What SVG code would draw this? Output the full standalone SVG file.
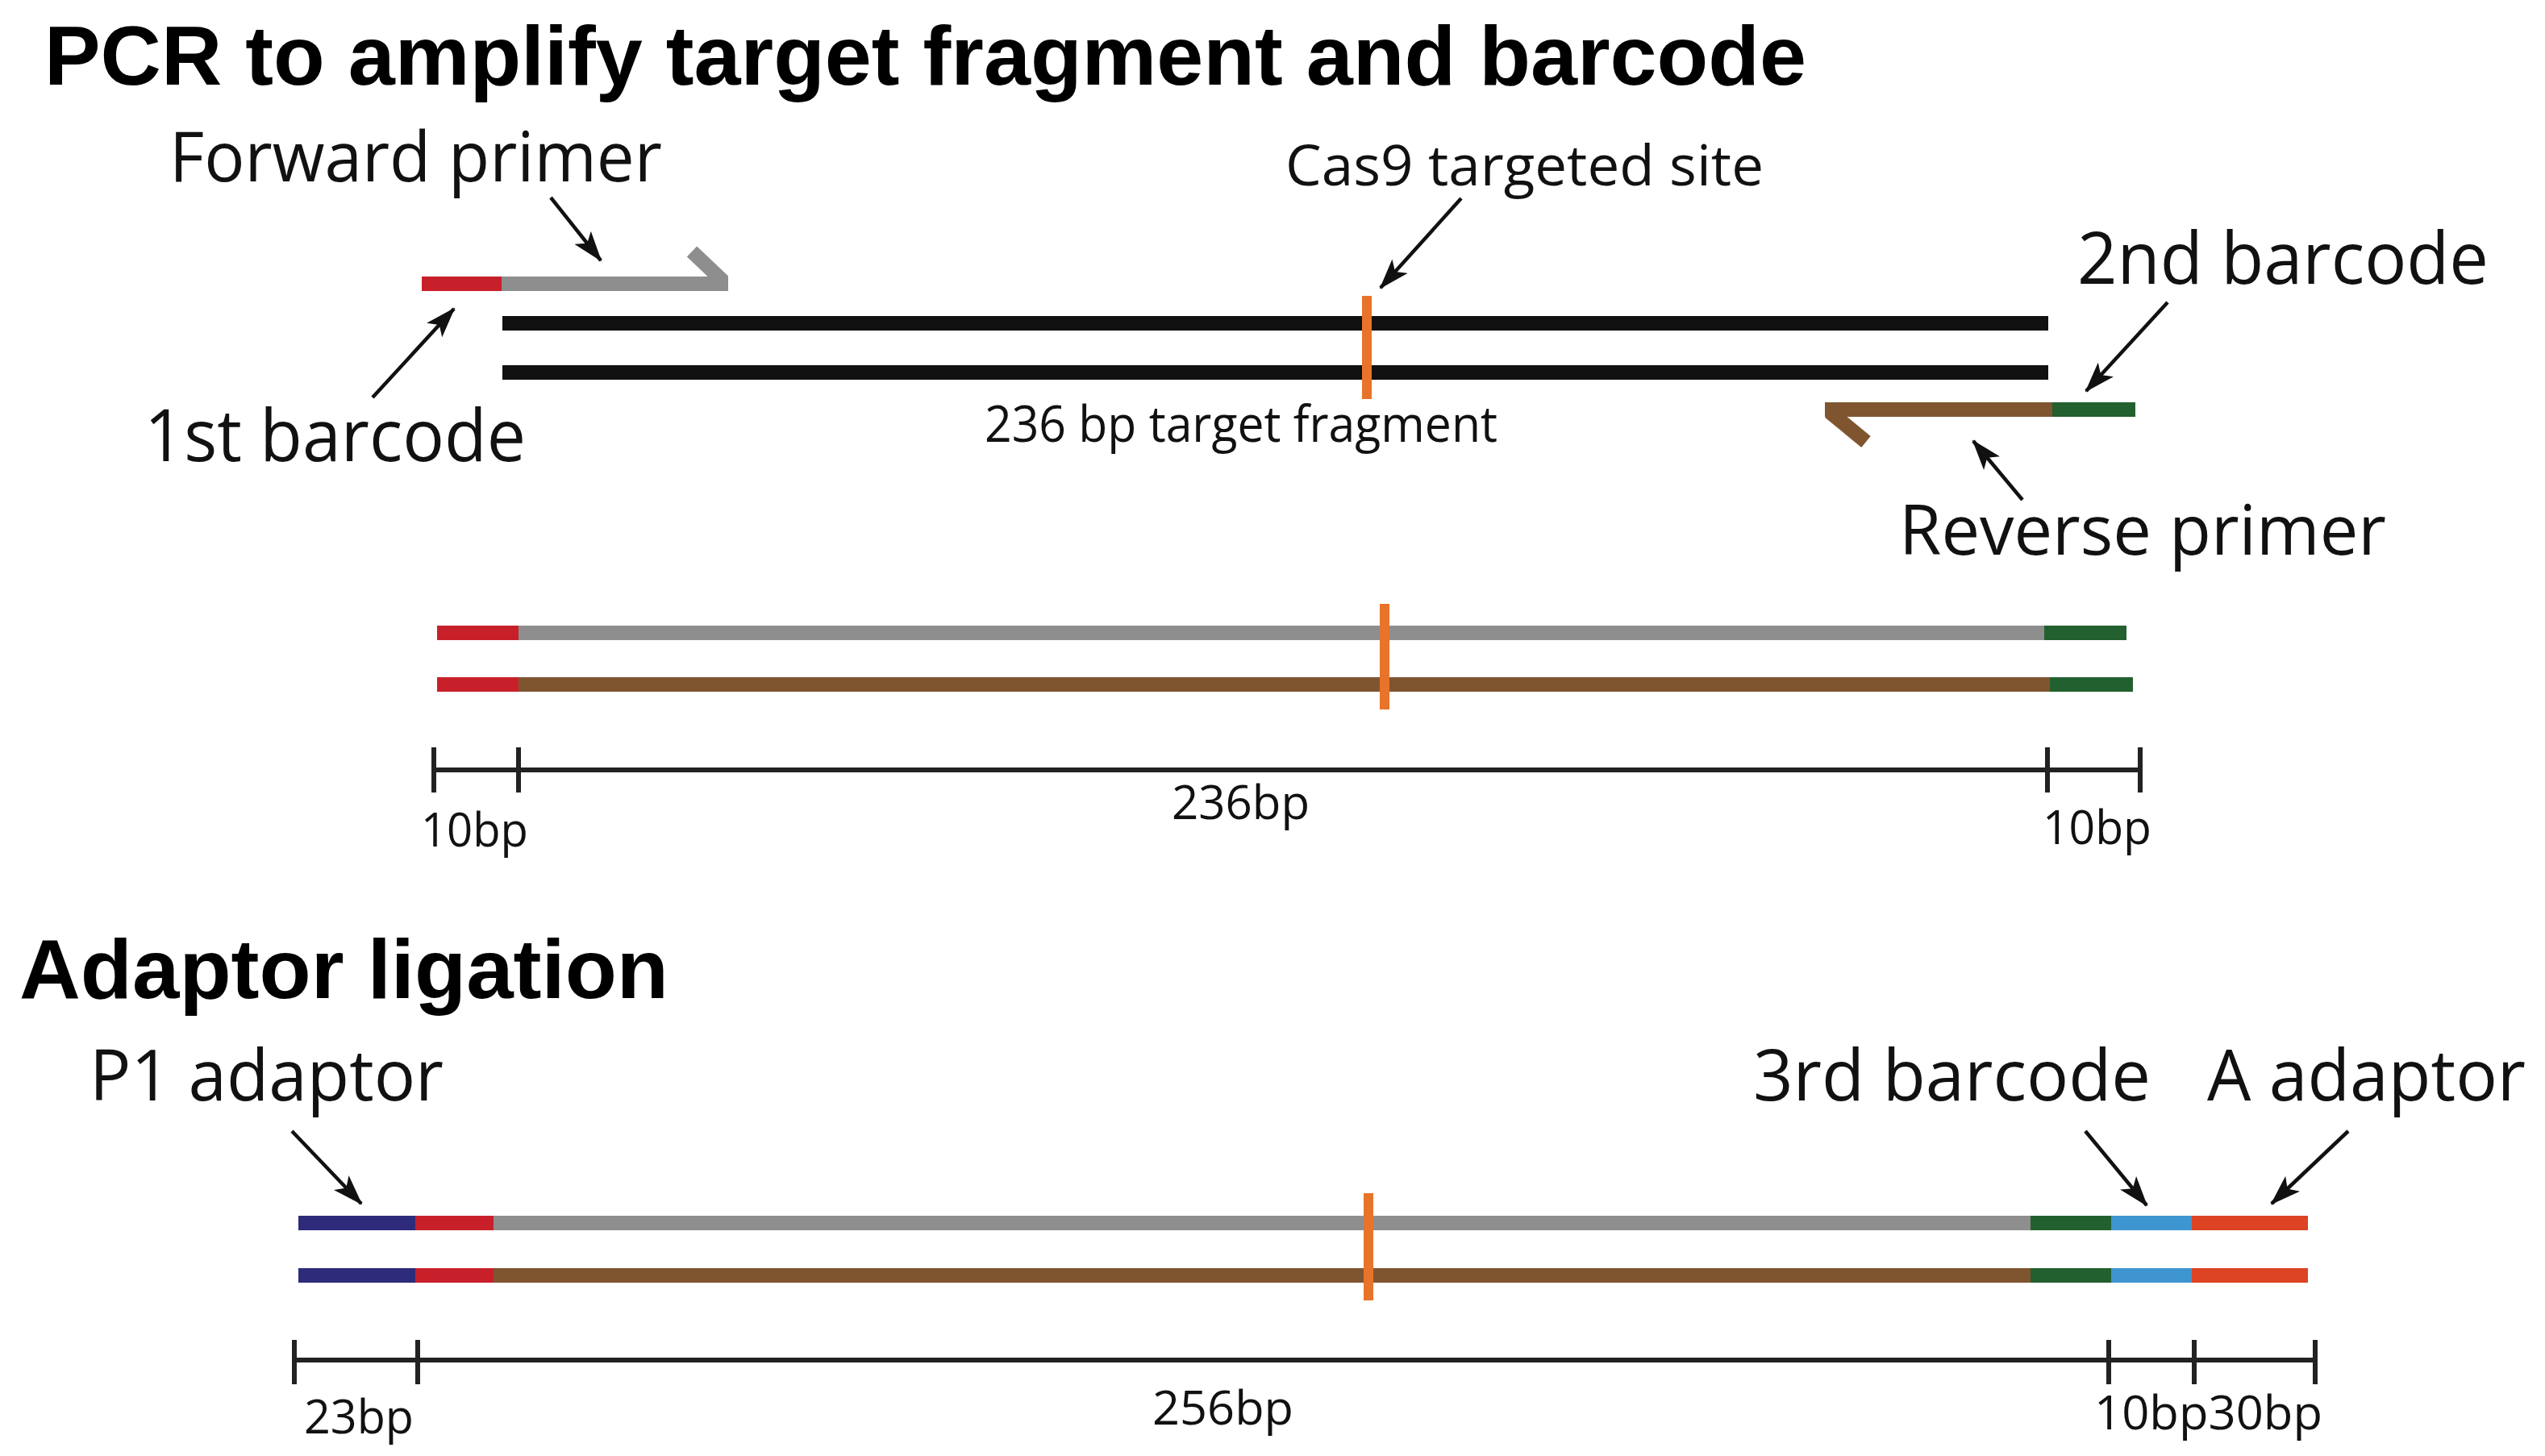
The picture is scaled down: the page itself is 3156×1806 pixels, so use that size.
<svg xmlns="http://www.w3.org/2000/svg" width="3156" height="1806" viewBox="0 0 3156 1806">
<defs>
<marker id="ah" markerUnits="userSpaceOnUse" markerWidth="38" markerHeight="26" viewBox="0 0 38 26" refX="36" refY="13" orient="auto">
<path d="M0,0 L38,13 L0,26 L9,13 Z" fill="#111"/>
</marker>
</defs>
<style>
.title{font-family:"Liberation Sans",Arial,sans-serif;font-weight:bold;font-size:104px;fill:#000}
.lbl{font-family:"Open Sans","DejaVu Sans",sans-serif;fill:#111}
.seg{stroke-width:18;fill:none;stroke-linecap:butt}
.cut{stroke:#e8732a;stroke-width:12;fill:none}
.scale{stroke:#222;stroke-width:6;fill:none}
.arr{stroke:#111;stroke-width:4.5;fill:none;marker-end:url(#ah)}
.red{stroke:#c8202a}.gray{stroke:#8e8e8e}.blk{stroke:#111}.brown{stroke:#7f5530}.green{stroke:#22602f}.navy{stroke:#2e2b7a}.lblue{stroke:#3e95d0}.ored{stroke:#dc4423}
</style>
<rect width="3156" height="1806" fill="#fff"/>

<g id="title-pcr"><text class="title" x="55" y="105" textLength="2185" lengthAdjust="spacingAndGlyphs">PCR to amplify target fragment and barcode</text></g>
<g id="title-adaptor"><text class="title" x="24" y="1238" textLength="805" lengthAdjust="spacingAndGlyphs">Adaptor ligation</text></g>

<g id="forward-primer">
<line class="seg red" x1="523" y1="352" x2="622" y2="352"/>
<line class="seg gray" x1="622" y1="352" x2="903" y2="352"/>
<line class="seg gray" x1="897" y1="349" x2="858" y2="312"/>
<text class="lbl" x="210" y="225" font-size="86" textLength="611" lengthAdjust="spacingAndGlyphs">Forward primer</text>
</g>
<g id="template">
<line class="seg blk" x1="623" y1="401" x2="2540" y2="401"/>
<line class="seg blk" x1="623" y1="462" x2="2540" y2="462"/>
<line class="cut" x1="1695" y1="367" x2="1695" y2="495"/>
<text class="lbl" x="1221" y="548" font-size="63" textLength="636" lengthAdjust="spacingAndGlyphs">236 bp target fragment</text>
</g>
<g id="reverse-primer">
<line class="seg brown" x1="2263" y1="508" x2="2545" y2="508"/>
<line class="seg brown" x1="2269" y1="511" x2="2314" y2="548"/>
<line class="seg green" x1="2545" y1="508" x2="2648" y2="508"/>
<text class="lbl" x="2355" y="688" font-size="86" textLength="604" lengthAdjust="spacingAndGlyphs">Reverse primer</text>
</g>
<g id="label-cas9"><text class="lbl" x="1594" y="230" font-size="70" textLength="593" lengthAdjust="spacingAndGlyphs">Cas9 targeted site</text></g>
<g id="label-1st"><text class="lbl" x="179" y="572" font-size="90" textLength="473" lengthAdjust="spacingAndGlyphs">1st barcode</text></g>
<g id="label-2nd"><text class="lbl" x="2576" y="352" font-size="90" textLength="510" lengthAdjust="spacingAndGlyphs">2nd barcode</text></g>

<g id="pcr-product">
<line class="seg red" x1="542" y1="785" x2="643" y2="785"/>
<line class="seg gray" x1="643" y1="785" x2="2535" y2="785"/>
<line class="seg green" x1="2535" y1="785" x2="2637" y2="785"/>
<line class="seg red" x1="542" y1="849" x2="643" y2="849"/>
<line class="seg brown" x1="643" y1="849" x2="2542" y2="849"/>
<line class="seg green" x1="2542" y1="849" x2="2645" y2="849"/>
<line class="cut" x1="1717" y1="749" x2="1717" y2="880"/>
</g>
<g id="scale-pcr">
<line class="scale" x1="538" y1="955" x2="2654" y2="955"/>
<line class="scale" x1="538" y1="927" x2="538" y2="983"/>
<line class="scale" x1="643" y1="927" x2="643" y2="983"/>
<line class="scale" x1="2539" y1="927" x2="2539" y2="983"/>
<line class="scale" x1="2654" y1="927" x2="2654" y2="983"/>
<text class="lbl" x="522" y="1050" font-size="59" textLength="133" lengthAdjust="spacingAndGlyphs">10bp</text>
<text class="lbl" x="1453" y="1016" font-size="59" textLength="171" lengthAdjust="spacingAndGlyphs">236bp</text>
<text class="lbl" x="2533" y="1047" font-size="59" textLength="135" lengthAdjust="spacingAndGlyphs">10bp</text>
</g>

<g id="ligated-product">
<line class="seg navy" x1="370" y1="1517" x2="515" y2="1517"/>
<line class="seg red" x1="515" y1="1517" x2="612" y2="1517"/>
<line class="seg gray" x1="612" y1="1517" x2="2518" y2="1517"/>
<line class="seg green" x1="2518" y1="1517" x2="2618" y2="1517"/>
<line class="seg lblue" x1="2618" y1="1517" x2="2718" y2="1517"/>
<line class="seg ored" x1="2718" y1="1517" x2="2862" y2="1517"/>
<line class="seg navy" x1="370" y1="1582" x2="515" y2="1582"/>
<line class="seg red" x1="515" y1="1582" x2="612" y2="1582"/>
<line class="seg brown" x1="612" y1="1582" x2="2518" y2="1582"/>
<line class="seg green" x1="2518" y1="1582" x2="2618" y2="1582"/>
<line class="seg lblue" x1="2618" y1="1582" x2="2718" y2="1582"/>
<line class="seg ored" x1="2718" y1="1582" x2="2862" y2="1582"/>
<line class="cut" x1="1697" y1="1480" x2="1697" y2="1613"/>
</g>
<g id="label-p1"><text class="lbl" x="111" y="1365" font-size="88" textLength="439" lengthAdjust="spacingAndGlyphs">P1 adaptor</text></g>
<g id="label-3rd"><text class="lbl" x="2174" y="1365" font-size="88" textLength="493" lengthAdjust="spacingAndGlyphs">3rd barcode</text></g>
<g id="label-a"><text class="lbl" x="2737" y="1365" font-size="88" textLength="395" lengthAdjust="spacingAndGlyphs">A adaptor</text></g>
<g id="scale-adaptor">
<line class="scale" x1="365" y1="1687" x2="2871" y2="1687"/>
<line class="scale" x1="365" y1="1662" x2="365" y2="1717"/>
<line class="scale" x1="518" y1="1662" x2="518" y2="1717"/>
<line class="scale" x1="2615" y1="1662" x2="2615" y2="1717"/>
<line class="scale" x1="2721" y1="1662" x2="2721" y2="1717"/>
<line class="scale" x1="2871" y1="1662" x2="2871" y2="1717"/>
<text class="lbl" x="377" y="1778" font-size="59" textLength="136" lengthAdjust="spacingAndGlyphs">23bp</text>
<text class="lbl" x="1429" y="1767" font-size="59" textLength="175" lengthAdjust="spacingAndGlyphs">256bp</text>
<text class="lbl" x="2597" y="1773" font-size="59" textLength="283" lengthAdjust="spacingAndGlyphs">10bp30bp</text>
</g>

<g id="connectors">
<line class="arr" x1="683" y1="245" x2="745" y2="323"/>
<line class="arr" x1="1812" y1="246" x2="1712" y2="357"/>
<line class="arr" x1="462" y1="493" x2="563" y2="383"/>
<line class="arr" x1="2688" y1="375" x2="2587" y2="485"/>
<line class="arr" x1="2508" y1="620" x2="2447" y2="547"/>
<line class="arr" x1="362" y1="1403" x2="448" y2="1493"/>
<line class="arr" x1="2586" y1="1403" x2="2662" y2="1495"/>
<line class="arr" x1="2912" y1="1403" x2="2817" y2="1493"/>
</g>
</svg>
